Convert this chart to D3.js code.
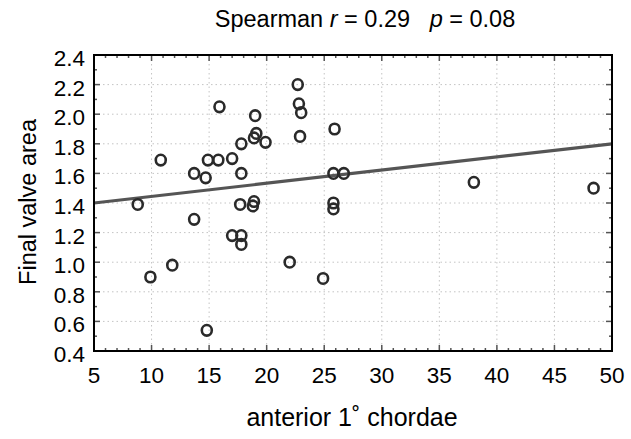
<!DOCTYPE html>
<html>
<head>
<meta charset="utf-8">
<script src="https://cdn.jsdelivr.net/npm/d3@7"></script>
<style>
  html, body { margin: 0; padding: 0; background: #fff; }
  svg { display: block; font-family: "Liberation Sans", Arial, Helvetica, sans-serif; }
</style>
</head>
<body>
<svg id="chart" width="631" height="439"></svg>
<script>
// ---- data ----
const chordae = [8.8, 9.9, 10.8, 11.8, 13.7, 13.7, 14.7, 14.9, 14.8, 15.8, 15.9, 17.0, 17.0, 17.8, 17.8, 17.8, 17.8, 17.7, 18.8, 18.9, 18.9, 19.1, 19.0, 19.9, 22.0, 22.7, 22.8, 23.0, 22.9, 24.9, 25.8, 26.7, 25.9, 25.8, 25.8, 38.0, 48.4];
const valveArea = [1.39, 0.90, 1.69, 0.98, 1.60, 1.29, 1.57, 1.69, 0.54, 1.69, 2.05, 1.70, 1.18, 1.80, 1.60, 1.18, 1.12, 1.39, 1.38, 1.41, 1.84, 1.87, 1.99, 1.81, 1.00, 2.20, 2.07, 2.01, 1.85, 0.89, 1.60, 1.60, 1.90, 1.36, 1.40, 1.54, 1.50];
const fitX = [5, 50];
const fitY = [1.40, 1.80];
const xTicks = [5, 10, 15, 20, 25, 30, 35, 40, 45, 50];
const yTicks = [0.4, 0.6, 0.8, 1.0, 1.2, 1.4, 1.6, 1.8, 2.0, 2.2, 2.4];
const titleParts = [["Spearman ", false], ["r", true], [" = 0.29   ", false], ["p", true], [" = 0.08", false]];
const xLabel = "anterior 1\u02DA chordae";
const yLabel = "Final valve area";

// ---- layout ----
const L = 94, R = 612, T = 55, B = 351;
const svg = d3.select("#chart");
const x = d3.scaleLinear().domain([5, 50]).range([L, R]);
const y = d3.scaleLinear().domain([0.4, 2.4]).range([B, T]);

// grid
const grid = svg.append("g").attr("stroke", "#c4c4c4").attr("stroke-width", 1).attr("stroke-dasharray", "1.5,3");
grid.selectAll("line.v").data(xTicks.slice(1, -1)).join("line")
  .attr("x1", d => x(d)).attr("x2", d => x(d)).attr("y1", T).attr("y2", B);
grid.selectAll("line.h").data(yTicks.slice(1, -1)).join("line")
  .attr("y1", d => y(d)).attr("y2", d => y(d)).attr("x1", L).attr("x2", R);

// inner tick marks on the frame
const minorX = d3.range(6, 50, 1);
const minorY = d3.range(5, 24, 1).map(v => v / 10);
const tk = svg.append("g").attr("stroke", "#555").attr("stroke-width", 1.5);
minorX.forEach(v => {
  const len = v % 5 === 0 ? 6 : 3;
  tk.append("line").attr("x1", x(v)).attr("x2", x(v)).attr("y1", B).attr("y2", B - len);
  tk.append("line").attr("x1", x(v)).attr("x2", x(v)).attr("y1", T).attr("y2", T + len);
});
minorY.forEach(v => {
  const major = Math.round(v * 10) % 2 === 0;
  const len = major ? 6 : 3;
  tk.append("line").attr("y1", y(v)).attr("y2", y(v)).attr("x1", L).attr("x2", L + len);
  tk.append("line").attr("y1", y(v)).attr("y2", y(v)).attr("x1", R).attr("x2", R - len);
});

// regression line
svg.append("path")
  .datum(fitX.map((d, i) => [d, fitY[i]]))
  .attr("d", d3.line().x(d => x(d[0])).y(d => y(d[1])))
  .attr("fill", "none").attr("stroke", "#555").attr("stroke-width", 3.2);

// points
svg.append("g").selectAll("ellipse").data(chordae.map((d, i) => [d, valveArea[i]])).join("ellipse")
  .attr("cx", d => x(d[0])).attr("cy", d => y(d[1]))
  .attr("rx", 5).attr("ry", 5.3)
  .attr("fill", "none").attr("stroke", "#2a2a2a").attr("stroke-width", 2.6);

// frame
svg.append("rect").attr("x", L).attr("y", T).attr("width", R - L).attr("height", B - T)
  .attr("fill", "none").attr("stroke", "#000").attr("stroke-width", 2);

// axis labels (tick text)
svg.append("g").selectAll("text").data(xTicks).join("text")
  .attr("x", d => x(d)).attr("y", 383).attr("text-anchor", "middle")
  .attr("font-size", 22.5).attr("fill", "#000").text(d => d);
svg.append("g").selectAll("text").data(yTicks).join("text")
  .attr("x", 85).attr("y", d => y(d) + 11).attr("text-anchor", "end")
  .attr("font-size", 22.5).attr("fill", "#000").text(d => d.toFixed(1));

// title
const title = svg.append("text").attr("x", 365).attr("y", 27).attr("text-anchor", "middle")
  .attr("font-size", 23.5).attr("fill", "#000").attr("xml:space", "preserve").style("white-space", "pre");
titleParts.forEach(([t, it]) => title.append("tspan").attr("font-style", it ? "italic" : "normal").text(t));

// axis titles
svg.append("text").attr("x", 352).attr("y", 426).attr("text-anchor", "middle")
  .attr("font-size", 25).attr("fill", "#000").text(xLabel);
svg.append("text").attr("transform", "translate(36,202) rotate(-90)").attr("text-anchor", "middle")
  .attr("font-size", 23.5).attr("fill", "#000").text(yLabel);
</script>
</body>
</html>
